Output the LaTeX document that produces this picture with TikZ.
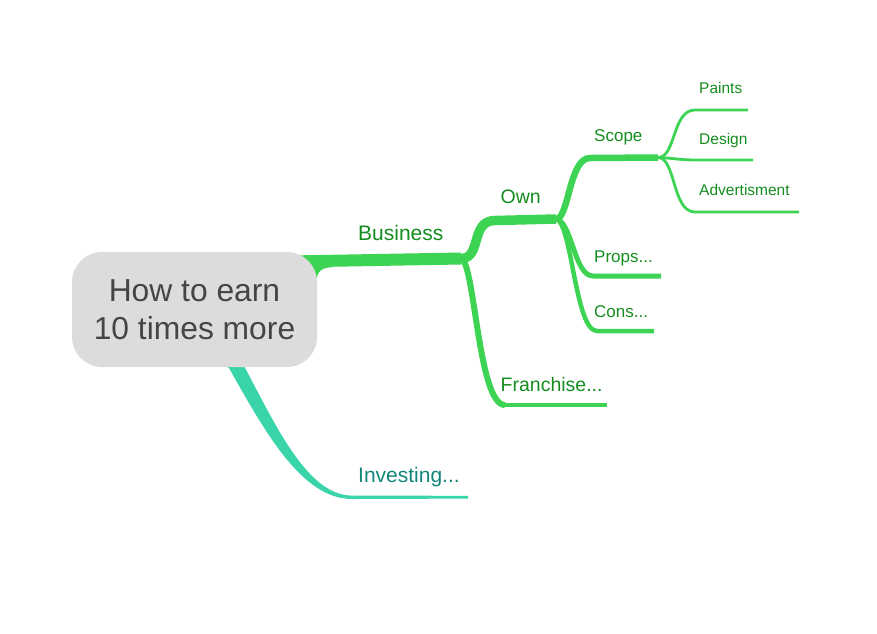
\documentclass[tikz,border=0pt]{standalone}
\usepackage{fontspec}
\setmainfont{Liberation Sans}
\definecolor{brg}{HTML}{3ED453}
\definecolor{brt}{HTML}{3AD4AA}
\definecolor{txg}{HTML}{148C1E}
\definecolor{txt}{HTML}{13877A}
\definecolor{rootfill}{HTML}{DCDCDC}
\definecolor{roottext}{HTML}{454545}
\begin{document}
\begin{tikzpicture}[x=1pt,y=-1pt,
  rootbox/.style={fill=rootfill, rounded corners=30pt, minimum width=245pt, minimum height=115pt,
    inner sep=0pt, align=center, text=roottext, font=\fontsize{31.8}{38}\selectfont},
  lblA/.style={anchor=base west, inner sep=0pt, text=txg, font=\fontsize{21}{24}\selectfont},
  lblB/.style={anchor=base west, inner sep=0pt, text=txg, font=\fontsize{19.5}{23}\selectfont},
  lblC/.style={anchor=base west, inner sep=0pt, text=txg, font=\fontsize{17}{20}\selectfont},
  lblD/.style={anchor=base west, inner sep=0pt, text=txg, font=\fontsize{15.5}{18}\selectfont},
  gline/.style={draw=brg, line cap=butt, line join=round},
]
\useasboundingbox (0,0) rectangle (877,633);

% junctions and ends
\coordinate (bstart) at (290,261.5);
\coordinate (jb) at (461,258.5);
\coordinate (jo) at (556,219);
\coordinate (js) at (658,157.5);
\coordinate (own-e) at (jo);
\coordinate (fr-e) at (607,405);
\coordinate (pr-e) at (661,276);
\coordinate (co-e) at (654,331);
\coordinate (pa-e) at (748,110);
\coordinate (de-e) at (753,160);
\coordinate (ad-e) at (799,212);

% Business
\draw[gline, line width=12] (bstart) -- (jb);
\fill[brg] (300,265) -- (334,267) .. controls (321,267.5) and (317,271) .. (316,283) -- (300,283) -- cycle;
% Own
\draw[gline, line width=9.5] (jb) .. controls (482,258.5) and (470,220.5) .. (495,220.5) -- (own-e);
% Franchise
\draw[gline, line width=6] (jb) .. controls (475,262) and (478,405) .. (505,405);
\draw[gline, line width=4] (505,405) -- (fr-e);
% Scope
\draw[gline, line width=6.5] (jo) .. controls (569,219) and (569,158) .. (590,158) -- (js);
% Props
\draw[gline, line width=5] (jo) .. controls (572,221) and (574,276) .. (593,276) -- (pr-e);
% Cons
\draw[gline, line width=4.5] (jo) .. controls (572,222) and (575,331) .. (597,331) -- (co-e);
% leaves
\draw[gline, line width=2.8] (js) .. controls (676,157.5) and (672,110) .. (695,110) -- (pa-e);
\draw[gline, line width=2.8] (js) .. controls (672,158) and (680,160) .. (697,160) -- (de-e);
\draw[gline, line width=2.8] (js) .. controls (676,158) and (672,212) .. (695,212) -- (ad-e);
% Investing (tapered)
\fill[brt] (242,362) .. controls (275,424) and (307,495.5) .. (352,495.6) -- (468,495.8)
  -- (468,498.6) -- (352,499) .. controls (302,499) and (265,432) .. (229,368)
  .. controls (224,365) and (218,364) .. (212,362) -- (242,355) -- cycle;

% root
\node[rootbox] (root) at (194.5,309.5) {How to earn\\10 times more};

% labels
\node[lblA] (business) at (358,240) {Business};
\node[lblB] (own) at (500.5,203) {Own};
\node[lblB] (franchise) at (500.5,391) {Franchise...};
\node[lblA, text=txt] (investing) at (358,482) {Investing...};
\node[lblC] (scope) at (594,141) {Scope};
\node[lblC] (props) at (594,262) {Props...};
\node[lblC] (cons) at (594,317) {Cons...};
\node[lblD] (paints) at (699,93) {Paints};
\node[lblD] (design) at (699,144) {Design};
\node[lblD] (advert) at (699,195) {Advertisment};
\end{tikzpicture}
\end{document}
